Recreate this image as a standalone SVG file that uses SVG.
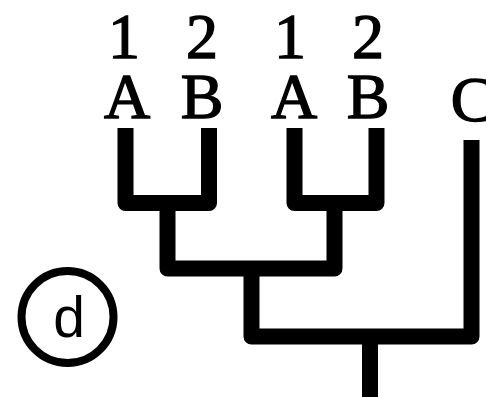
<svg xmlns="http://www.w3.org/2000/svg" width="486" height="397" viewBox="0 0 486 397">
<style>
.lbl{font-family:"Liberation Serif","Times New Roman",serif;font-size:64px;fill:#000;stroke:#000;stroke-width:1.4;text-anchor:middle}
.br{fill:none;stroke:#000;stroke-width:16;stroke-linejoin:round;stroke-linecap:butt}
</style>
<rect width="486" height="397" fill="#fff"/>
<g id="leaf-A1"><text class="lbl" x="124" y="58">1</text><text class="lbl" x="127" y="118">A</text></g>
<g id="leaf-B2"><text class="lbl" x="202" y="58">2</text><text class="lbl" x="202" y="118">B</text></g>
<g id="leaf-A1b"><text class="lbl" x="290" y="58">1</text><text class="lbl" x="294" y="118">A</text></g>
<g id="leaf-B2b"><text class="lbl" x="368" y="58">2</text><text class="lbl" x="368" y="118">B</text></g>
<g id="leaf-C"><text class="lbl" x="472" y="121">C</text></g>
<g id="connectors">
<path class="br" d="M125.5,128 V203 H209 V128"/>
<path class="br" d="M294.5,128 V203 H376.5 V128"/>
<path class="br" d="M167.5,203 V268.5 H334.5 V203"/>
<path class="br" d="M251.5,268.5 V336.5 H471.5 V140"/>
<path class="br" d="M370,336.5 V397"/>
</g>
<g id="label-d">
<circle cx="67.5" cy="317" r="46" fill="none" stroke="#000" stroke-width="8"/>
<text x="69" y="337" font-family="Liberation Sans,Arial,sans-serif" font-size="57" text-anchor="middle">d</text>
</g>
</svg>
